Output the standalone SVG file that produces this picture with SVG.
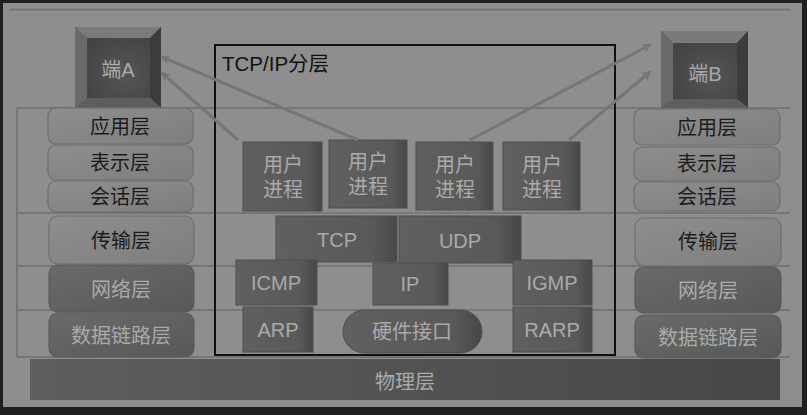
<svg xmlns="http://www.w3.org/2000/svg" width="807" height="415" viewBox="0 0 807 415">
<defs>
  <linearGradient id="gDarkH" x1="0" y1="0" x2="1" y2="0">
    <stop offset="0" stop-color="#606060"/>
    <stop offset="0.8" stop-color="#595959"/>
    <stop offset="1" stop-color="#474747"/>
  </linearGradient>
  <linearGradient id="gLight" x1="0" y1="0" x2="1" y2="1">
    <stop offset="0" stop-color="#8e8e8e"/>
    <stop offset="1" stop-color="#7e7e7e"/>
  </linearGradient>
  <linearGradient id="gLayerDark" x1="0" y1="0" x2="1" y2="1">
    <stop offset="0" stop-color="#6a6a6a"/>
    <stop offset="1" stop-color="#585858"/>
  </linearGradient>
  <linearGradient id="gPhys" x1="0" y1="0" x2="1" y2="0">
    <stop offset="0" stop-color="#5e5e5e"/>
    <stop offset="1" stop-color="#474747"/>
  </linearGradient>
  <radialGradient id="gFace" cx="0.6" cy="0.6" r="0.7">
    <stop offset="0" stop-color="#555"/>
    <stop offset="1" stop-color="#444"/>
  </radialGradient>
  <marker id="arr" markerWidth="10" markerHeight="10" refX="8" refY="5" orient="auto" markerUnits="userSpaceOnUse" viewBox="0 0 10 10">
    <path d="M0,0 L10,5 L0,10 L3,5 Z" fill="#767676"/>
  </marker>
</defs>
<style>
  .t { font-family: "Liberation Sans", "Noto Sans CJK SC", sans-serif; text-anchor: middle; font-size: 20px; }
  .lt { fill: #aaaaaa; }
  .dk { fill: #1c1c1c; }
  .grid { stroke: #6e6e6e; stroke-width: 1.5; fill: none; }
  .dbox { fill: url(#gDarkH); stroke: #4f4f4f; stroke-width: 1; }
  .lbox { fill: url(#gLight); stroke: #6f6f6f; stroke-width: 1.2; }
  .ldbox { fill: url(#gLayerDark); stroke: #5a5a5a; stroke-width: 1.2; }
  .conn { stroke: #767676; stroke-width: 3; fill: none; marker-end: url(#arr); }
</style>

<rect x="0" y="0" width="807" height="415" fill="#1f1f1f"/>
<rect x="3" y="3" width="799" height="404" fill="#8e8e8e"/>

<g id="grid">
  <line class="grid" x1="10" y1="9.5" x2="790" y2="9.5"/>
  <line class="grid" x1="17" y1="108" x2="790" y2="108"/>
  <line class="grid" x1="17" y1="213" x2="790" y2="213"/>
  <line class="grid" x1="17" y1="266" x2="790" y2="266"/>
  <line class="grid" x1="17" y1="310" x2="790" y2="310"/>
  <line class="grid" x1="17" y1="357" x2="790" y2="357"/>
  <line class="grid" x1="17" y1="108" x2="17" y2="357"/>
</g>

<g id="tcpip-frame">
  <rect x="215" y="45" width="400" height="310" fill="none" stroke="#111" stroke-width="2"/>
  <text x="222" y="71" font-family="Liberation Sans, Noto Sans CJK SC, sans-serif" font-size="20.5" fill="#111">TCP/IP分层</text>
</g>

<g id="physical">
  <rect x="30" y="359" width="750" height="41" fill="url(#gPhys)"/>
  <text class="t lt" x="405" y="389">物理层</text>
</g>

<g id="hostA">
  <rect x="75" y="27" width="86" height="81" fill="#666"/>
  <polygon points="75,27 161,27 150,38 87,38" fill="#7a7a7a"/>
  <polygon points="75,27 87,38 87,98 75,108" fill="#6a6a6a"/>
  <polygon points="161,27 161,108 150,98 150,38" fill="#3c3c3c"/>
  <polygon points="75,108 161,108 150,98 87,98" fill="#5e5e5e"/>
  <rect x="87" y="38" width="63" height="60" fill="url(#gFace)"/>
  <text class="t lt" x="118" y="77">端A</text>
</g>

<g id="hostB">
  <rect x="661" y="31" width="87" height="77" fill="#666"/>
  <polygon points="661,31 748,31 737,43 673,43" fill="#7a7a7a"/>
  <polygon points="661,31 673,43 673,99 661,108" fill="#6a6a6a"/>
  <polygon points="748,31 748,108 737,99 737,43" fill="#3c3c3c"/>
  <polygon points="661,108 748,108 737,99 673,99" fill="#5e5e5e"/>
  <rect x="673" y="43" width="64" height="56" fill="url(#gFace)"/>
  <text class="t lt" x="705" y="81">端B</text>
</g>

<g id="leftA-app"><rect class="lbox" x="48" y="108" width="145" height="36" rx="8"/><text class="t dk" x="120" y="134">应用层</text></g>
<g id="leftA-pres"><rect class="lbox" x="48" y="145" width="145" height="35" rx="8"/><text class="t dk" x="120" y="170">表示层</text></g>
<g id="leftA-sess"><rect class="lbox" x="48" y="181" width="145" height="31" rx="8"/><text class="t dk" x="120" y="204">会话层</text></g>
<g id="leftA-trans"><rect class="lbox" x="49" y="216" width="145" height="48" rx="9"/><text class="t dk" x="121" y="248">传输层</text></g>
<g id="leftA-net"><rect class="ldbox" x="49" y="265" width="145" height="47" rx="9"/><text class="t lt" x="121" y="297">网络层</text></g>
<g id="leftA-link"><rect class="ldbox" x="49" y="313" width="145" height="44" rx="9"/><text class="t lt" x="121" y="343">数据链路层</text></g>

<g id="rightB-app"><rect class="lbox" x="634" y="109" width="146" height="36" rx="8"/><text class="t dk" x="707" y="135">应用层</text></g>
<g id="rightB-pres"><rect class="lbox" x="634" y="147" width="146" height="34" rx="8"/><text class="t dk" x="707" y="171">表示层</text></g>
<g id="rightB-sess"><rect class="lbox" x="634" y="182" width="146" height="29" rx="8"/><text class="t dk" x="707" y="204">会话层</text></g>
<g id="rightB-trans"><rect class="lbox" x="635" y="218" width="146" height="48" rx="9"/><text class="t dk" x="708" y="249">传输层</text></g>
<g id="rightB-net"><rect class="ldbox" x="635" y="267" width="146" height="46" rx="9"/><text class="t lt" x="708" y="298">网络层</text></g>
<g id="rightB-link"><rect class="ldbox" x="635" y="315" width="146" height="43" rx="9"/><text class="t lt" x="708" y="345">数据链路层</text></g>

<g id="proc1"><rect class="dbox" x="243" y="142" width="79" height="69"/><text class="t lt" x="283" y="172">用户</text><text class="t lt" x="283" y="197">进程</text></g>
<g id="proc2"><rect class="dbox" x="329" y="140" width="78" height="68"/><text class="t lt" x="368" y="169">用户</text><text class="t lt" x="368" y="194">进程</text></g>
<g id="proc3"><rect class="dbox" x="416" y="142" width="77" height="68"/><text class="t lt" x="455" y="172">用户</text><text class="t lt" x="455" y="197">进程</text></g>
<g id="proc4"><rect class="dbox" x="503" y="142" width="77" height="68"/><text class="t lt" x="542" y="172">用户</text><text class="t lt" x="542" y="197">进程</text></g>

<text x="405" y="218" font-family="Liberation Sans, sans-serif" font-size="12" fill="#8a8a8a" text-anchor="middle" opacity="0.6">http://blog.csdn.net/yu_ziqiang</text>

<g id="tcp"><rect class="dbox" x="276" y="216" width="121" height="46"/><text class="t lt" x="337" y="247">TCP</text></g>
<g id="udp"><rect class="dbox" x="399" y="216" width="122" height="47"/><text class="t lt" x="460" y="248">UDP</text></g>
<g id="icmp"><rect class="dbox" x="236" y="260" width="81" height="45"/><text class="t lt" x="276" y="290">ICMP</text></g>
<g id="ip"><rect class="dbox" x="373" y="263" width="75" height="42"/><text class="t lt" x="410" y="291">IP</text></g>
<g id="igmp"><rect class="dbox" x="513" y="260" width="79" height="45"/><text class="t lt" x="552" y="290">IGMP</text></g>
<g id="arp"><rect class="dbox" x="243" y="307" width="70" height="45"/><text class="t lt" x="278" y="337">ARP</text></g>
<g id="hw"><rect class="dbox" x="343" y="310" width="139" height="43" rx="21.5"/><text class="t lt" x="412" y="339">硬件接口</text></g>
<g id="rarp"><rect class="dbox" x="513" y="307" width="79" height="45"/><text class="t lt" x="552" y="337">RARP</text></g>

<g id="connectors">
  <line class="conn" x1="358" y1="140" x2="162" y2="57"/>
  <line class="conn" x1="238" y1="140" x2="162" y2="73"/>
  <line class="conn" x1="470" y1="140" x2="650" y2="45"/>
  <line class="conn" x1="569" y1="140" x2="650" y2="72"/>
</g>
</svg>
